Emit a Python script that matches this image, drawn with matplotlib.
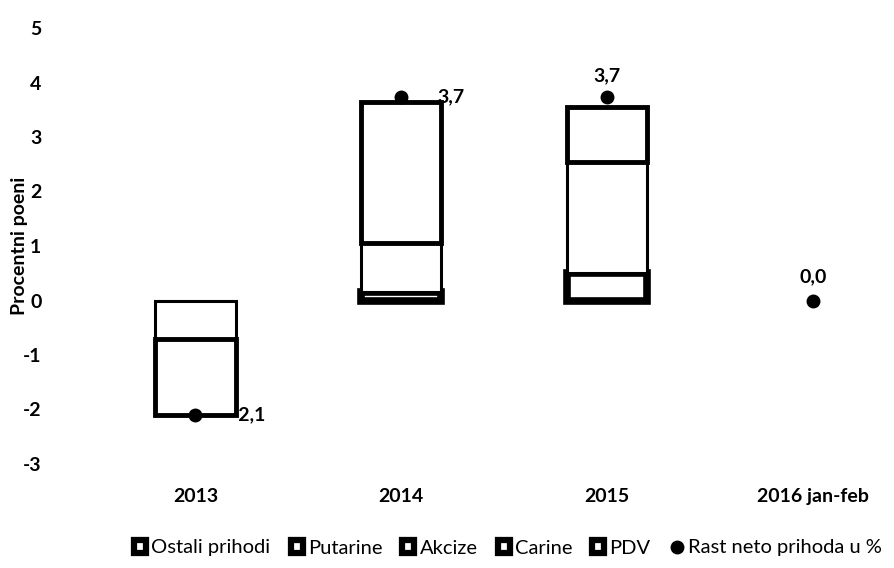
import numpy as np
from matplotlib import pyplot as plt
from matplotlib.lines import Line2D

plt.rcParams['font.family'] = ['Lato', 'DejaVu Sans']
plt.rcParams['axes.unicode_minus'] = False

categories = ['2013', '2014', '2015', '2016 jan-feb']
ostali = [0.0, 0.16, 0.5, 0.0]
putarine = [0.0, 0.0, 0.0, 0.0]
akcize = [-0.7, 0.89, 2.05, 0.0]
carine = [0.0, 0.0, 0.0, 0.0]
pdv = [-1.4, 2.6, 1.0, 0.0]
rast = [-2.1, 3.74, 3.74, 0.0]

SERIES = [  # name, values, edge width
    ('Ostali prihodi', ostali, 5.5),
    ('Putarine', putarine, 4.0),
    ('Akcize', akcize, 2.2),
    ('Carine', carine, 6.0),
    ('PDV', pdv, 3.5),
]
LABEL_OFFSETS = [(26, 0), (26, 0), (0, 9), (0, 11)]  # points, per category

fig = plt.figure(figsize=(8.95, 5.68), dpi=100)
ax = fig.add_axes([72 / 895, 104 / 568, 823 / 895, 436 / 568])

x = np.arange(len(categories))
pos_base = np.zeros(len(categories))
neg_base = np.zeros(len(categories))
handles = []
for name, vals, lw in SERIES:
    vals = np.array(vals)
    base = np.where(vals >= 0, pos_base, neg_base)
    mask = vals != 0
    ax.bar(x[mask], vals[mask], 0.39, bottom=base[mask], facecolor='white', edgecolor='black',
           linewidth=lw, zorder=2)
    pos_base += np.clip(vals, 0, None)
    neg_base += np.clip(vals, None, 0)
    handles.append(plt.Rectangle((0, 0), 1, 1, facecolor='white', edgecolor='black', linewidth=4.5))

ax.plot(x, rast, 'o', color='black', markersize=9, linestyle='none', zorder=3)
handles.append(Line2D([], [], marker='o', color='black', linestyle='none', markersize=9))

for xi, v, (dx, dy) in zip(x, rast, LABEL_OFFSETS):
    txt = '{:.1f}'.format(v).replace('.', ',')
    if dy:
        ax.annotate(txt, (xi, v), xytext=(dx, dy), textcoords='offset points', ha='center', va='bottom',
                    fontsize=14, fontweight='bold', zorder=1)
    else:
        ax.annotate(txt, (xi, v), xytext=(dx, dy), textcoords='offset points', ha='left', va='center',
                    fontsize=14, fontweight='bold', zorder=1)

ax.set_xlim(-0.6, 3.4)
ax.set_ylim(-3, 5)
ax.set_yticks(range(-3, 6))
ax.set_xticks(x)
ax.set_xticklabels(categories)
ax.tick_params(length=0, labelsize=14, pad=17)
for lab in ax.get_xticklabels() + ax.get_yticklabels():
    lab.set_fontweight('bold')
ax.tick_params(axis='y', pad=22)
for s in ax.spines.values():
    s.set_visible(False)
ax.set_ylabel('Procentni poeni', fontsize=14, fontweight='bold')
ax.yaxis.set_label_coords(-44 / 823, 0.5)

fig.legend(handles, [s[0] for s in SERIES] + ['Rast neto prihoda u %'], loc='center',
           bbox_to_anchor=(508 / 895, 1 - 548 / 568), ncol=6, frameon=False, fontsize=14.5,
           handlelength=0.6, handleheight=0.6, handletextpad=0.25, columnspacing=1.0)

plt.savefig('out.png', dpi=100)
